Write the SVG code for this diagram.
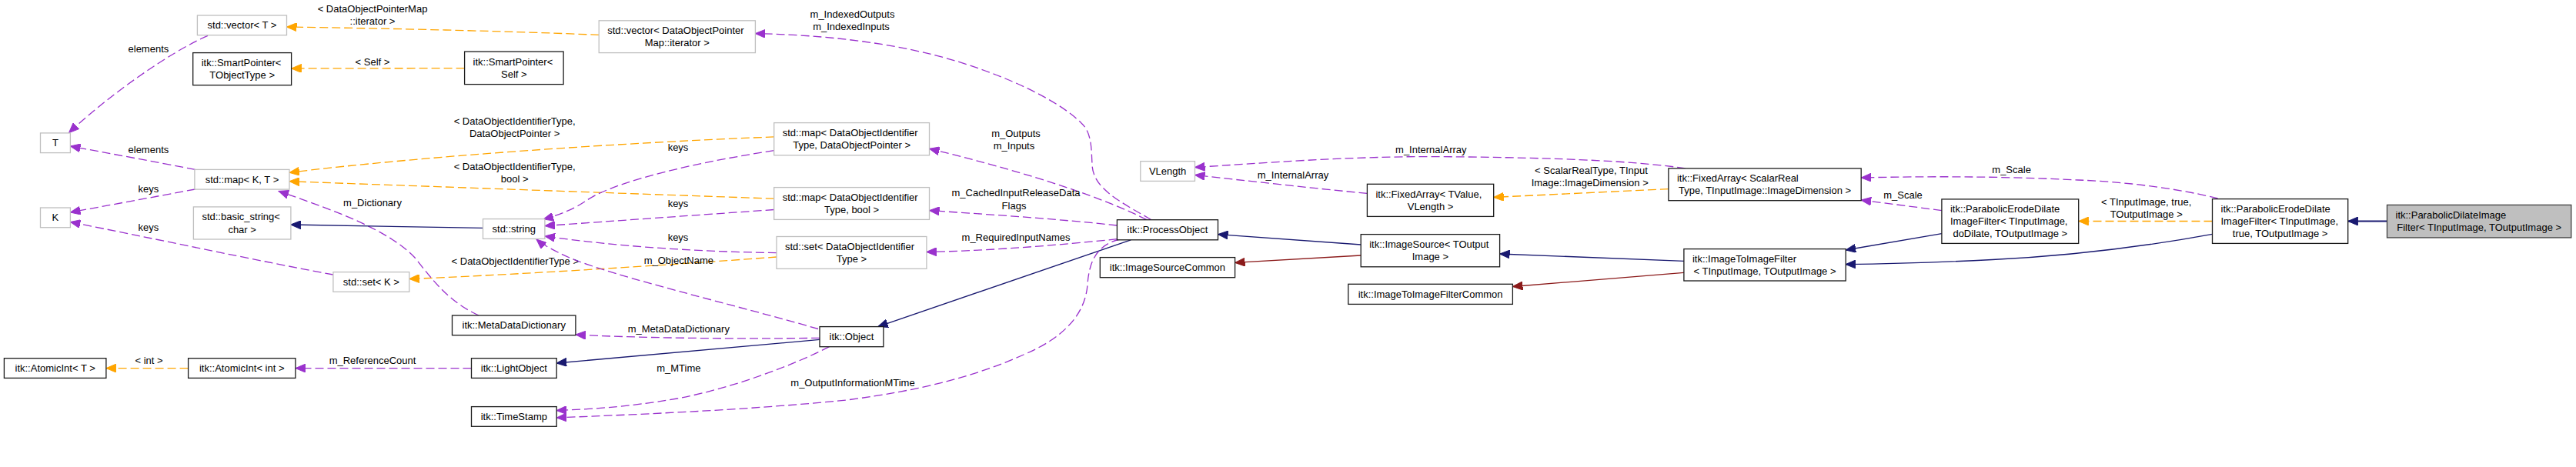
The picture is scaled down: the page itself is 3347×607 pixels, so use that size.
<svg xmlns="http://www.w3.org/2000/svg" width="3347" height="607" viewBox="0 0 3347 607">
<style>
text{font-family:"Liberation Sans",Arial,Helvetica,sans-serif;font-size:13px;fill:#000}
.c{text-anchor:middle}
.n rect{fill:#fff;stroke:#1a1a1a;stroke-width:1.3}
.u rect{stroke:#bfbfbf}
.cur rect{fill:#bfbfbf;stroke:#404040}
#edges path{fill:none;stroke-width:1.3}
.pu{stroke:#9a32cd;stroke-dasharray:11,5;marker-end:url(#ap)}
.or{stroke:#ffa500;stroke-dasharray:11,5;marker-end:url(#ao)}
.nv{stroke:#191970;marker-end:url(#an)}
.fb{stroke:#8b1a1a;marker-end:url(#af)}
#edges path.thick{stroke-width:2}
</style>
<defs>
<marker id="ap" markerUnits="userSpaceOnUse" markerWidth="14" markerHeight="11" viewBox="0 0 14 11" refX="13" refY="5.5" orient="auto"><path d="M0,0 L13,5.5 L0,11 z" fill="#9a32cd" stroke="#9a32cd" stroke-width="1"/></marker>
<marker id="ao" markerUnits="userSpaceOnUse" markerWidth="14" markerHeight="11" viewBox="0 0 14 11" refX="13" refY="5.5" orient="auto"><path d="M0,0 L13,5.5 L0,11 z" fill="#ffa500" stroke="#ffa500" stroke-width="1"/></marker>
<marker id="an" markerUnits="userSpaceOnUse" markerWidth="14" markerHeight="11" viewBox="0 0 14 11" refX="13" refY="5.5" orient="auto"><path d="M0,0 L13,5.5 L0,11 z" fill="#191970" stroke="#191970" stroke-width="1"/></marker>
<marker id="af" markerUnits="userSpaceOnUse" markerWidth="14" markerHeight="11" viewBox="0 0 14 11" refX="13" refY="5.5" orient="auto"><path d="M0,0 L13,5.5 L0,11 z" fill="#8b1a1a" stroke="#8b1a1a" stroke-width="1"/></marker>
</defs>
<rect width="3347" height="607" fill="#fff"/>
<g id="edges">
<path class="pu" d="M270,46.4 C220,68 140,125 89.5,172.5"/>
<text class="c" x="192.9" y="67.5">elements</text>
<path class="or" d="M778.2,45.4 C650,40 500,37 372.5,35"/>
<text class="c" x="484" y="16">&lt; DataObjectPointerMap</text>
<text class="c" x="484" y="32.2">::iterator &gt;</text>
<path class="or" d="M603.6,88.6 L378.6,89"/>
<text class="c" x="484" y="85">&lt; Self &gt;</text>
<path class="pu" d="M253.6,220.4 C200,210 140,199 91.4,190"/>
<text class="c" x="192.9" y="199">elements</text>
<path class="pu" d="M253.6,246 C200,256 140,267 91.4,276"/>
<text class="c" x="192.9" y="249.7">keys</text>
<path class="pu" d="M432.9,357 C330,338 200,310 91.4,288.6"/>
<text class="c" x="192.9" y="299.7">keys</text>
<path class="or" d="M1005.7,177.9 C800,186 550,203 376,224.3"/>
<text class="c" x="668.6" y="162.2">&lt; DataObjectIdentifierType,</text>
<text class="c" x="668.6" y="178">DataObjectPointer &gt;</text>
<path class="or" d="M1005.7,258.2 C800,251 550,242 376,235.7"/>
<text class="c" x="668.6" y="221">&lt; DataObjectIdentifierType,</text>
<text class="c" x="668.6" y="237">bool &gt;</text>
<path class="or" d="M1009,334 C850,346 650,358 531.8,362.5"/>
<text class="c" x="669.3" y="344">&lt; DataObjectIdentifierType &gt;</text>
<path class="pu" d="M622,410 C585,393 565,368 540,336 C505,298 430,272 362,248.5"/>
<text class="c" x="484" y="268.3">m_Dictionary</text>
<path class="nv" d="M627.5,296.4 L377.9,292"/>
<path class="pu" d="M1005.7,195.7 C880,215 790,240 760,262 C745,272 725,280 706,285"/>
<text class="c" x="881" y="195.8">keys</text>
<path class="pu" d="M1005.7,272.5 C900,280 800,287 707.9,293.6"/>
<text class="c" x="881" y="269.4">keys</text>
<path class="pu" d="M1009,328.6 C900,327 800,320 707.9,307"/>
<text class="c" x="881" y="313">keys</text>
<path class="pu" d="M1063,427.5 C950,395 800,360 740,335 C720,326 705,318 697,311"/>
<text class="c" x="881.8" y="342.6">m_ObjectName</text>
<path class="pu" d="M1065,439.3 C950,441 820,439 747.9,435"/>
<text class="c" x="881.8" y="431.5">m_MetaDataDictionary</text>
<path class="nv" d="M1065,441.4 L723.2,472"/>
<path class="pu" d="M1077.5,450.7 C1030,475 950,505 880,518 C810,530 760,532 723.2,533.6"/>
<text class="c" x="881.8" y="483.3">m_MTime</text>
<path class="pu" d="M612.5,478.6 L383.9,478.6"/>
<text class="c" x="484" y="473">m_ReferenceCount</text>
<path class="or" d="M244.6,478.6 L137.9,478.6"/>
<text class="c" x="193.6" y="473">&lt; int &gt;</text>
<path class="pu" d="M1496,285.7 C1455,262 1420,245 1419,214 C1418,190 1418,172 1405,160 C1380,135 1330,110 1280,92 C1200,62 1100,46 981.4,43.6"/>
<text class="c" x="1107.5" y="22.6">m_IndexedOutputs</text>
<text class="c" x="1106" y="39.4">m_IndexedInputs</text>
<path class="pu" d="M1490,285.7 C1440,260 1350,228 1207.5,193.2"/>
<text class="c" x="1320" y="178">m_Outputs</text>
<text class="c" x="1317.5" y="194.4">m_Inputs</text>
<path class="pu" d="M1451.4,293 C1380,285 1290,279 1207.5,273.6"/>
<text class="c" x="1320" y="255.4">m_CachedInputReleaseData</text>
<text class="c" x="1317.5" y="271.9">Flags</text>
<path class="pu" d="M1451.4,310.7 C1380,318 1290,326 1203.9,327.5"/>
<text class="c" x="1320" y="312.6">m_RequiredInputNames</text>
<path class="nv" d="M1469.3,311.8 L1140.7,424.6"/>
<path class="pu" d="M1455,311 C1425,318 1415,340 1413,370 C1410,410 1380,440 1330,461 C1270,488 1200,507 1100,520 C980,532 850,538 723.2,542.9"/>
<text class="c" x="1108" y="502.2">m_OutputInformationMTime</text>
<path class="nv" d="M1768.2,318 L1582.5,304.6"/>
<path class="fb" d="M1768.2,332 L1604.6,341.4"/>
<path class="nv" d="M2187.9,339.3 L1948.6,330"/>
<path class="fb" d="M2187.9,354.3 L1965.4,372.5"/>
<path class="pu" d="M1776.4,251.4 C1700,244 1620,235 1552.5,227.5"/>
<text class="c" x="1680" y="231.5">m_InternalArray</text>
<path class="pu" d="M2190,218.9 C2130,210 2040,205 1870,203.6 C1750,203 1640,212 1552.5,217.5"/>
<text class="c" x="1859.3" y="199.4">m_InternalArray</text>
<path class="or" d="M2167.9,245.7 L1940.7,256.4"/>
<text class="c" x="2067.5" y="225.8">&lt; ScalarRealType, TInput</text>
<text class="c" x="2065.7" y="242.2">Image::ImageDimension &gt;</text>
<path class="nv" d="M2522.9,303.6 L2398.2,325"/>
<path class="pu" d="M2522.9,273.6 L2418.2,260"/>
<text class="c" x="2472.5" y="258">m_Scale</text>
<path class="pu" d="M2881.6,257.9 C2830,245 2760,236 2700,234 C2600,229 2500,229 2418.2,231"/>
<text class="c" x="2613.6" y="224.7">m_Scale</text>
<path class="or" d="M2874.5,287.5 L2700.7,287.5"/>
<text class="c" x="2788.7" y="266.5">&lt; TInputImage, true,</text>
<text class="c" x="2788.7" y="282.9">TOutputImage &gt;</text>
<path class="nv" d="M2874.5,304.3 C2800,318 2700,332 2588.6,337.5 C2520,341 2450,343 2398.2,343.6"/>
<path class="nv thick" d="M3101.5,287.5 L3050.7,287.5"/>
</g>
<g id="atomicT" class="n"><rect x="5.4" y="465.7" width="132.5" height="25.7"/><text class="c" x="71.65" y="483.05">itk::AtomicInt&lt; T &gt;</text></g>
<g id="atomicInt" class="n"><rect x="244.6" y="465.7" width="139.3" height="25.7"/><text class="c" x="314.25" y="483.05">itk::AtomicInt&lt; int &gt;</text></g>
<g id="T" class="n u"><rect x="52.5" y="172.9" width="38.9" height="25.7"/><text class="c" x="71.95" y="190.25">T</text></g>
<g id="K" class="n u"><rect x="52.5" y="270" width="38.9" height="25.7"/><text class="c" x="71.95" y="287.35">K</text></g>
<g id="vectorT" class="n u"><rect x="256.4" y="20" width="116.1" height="25.7"/><text class="c" x="314.45" y="37.35">std::vector&lt; T &gt;</text></g>
<g id="smartPtrT" class="n"><rect x="250.7" y="68.6" width="127.9" height="42.1"/><text x="261.7" y="86.05">itk::SmartPointer&lt;</text><text class="c" x="314.65" y="102.25">TObjectType &gt;</text></g>
<g id="mapKT" class="n u"><rect x="252.9" y="220.4" width="123.1" height="25.7"/><text class="c" x="314.45" y="237.75">std::map&lt; K, T &gt;</text></g>
<g id="basicString" class="n u"><rect x="251.4" y="268.9" width="126.5" height="42.1"/><text x="262.4" y="286.35">std::basic_string&lt;</text><text class="c" x="314.65" y="302.55">char &gt;</text></g>
<g id="setK" class="n u"><rect x="432.9" y="353.6" width="98.9" height="25.7"/><text class="c" x="482.35" y="370.95">std::set&lt; K &gt;</text></g>
<g id="vectorDOPM" class="n u"><rect x="778.2" y="26.8" width="203.2" height="41.8"/><text x="789.2" y="44.1">std::vector&lt; DataObjectPointer</text><text class="c" x="879.8" y="60.3">Map::iterator &gt;</text></g>
<g id="smartPtrSelf" class="n"><rect x="603.6" y="67.1" width="128.5" height="42.5"/><text x="614.6" y="84.75">itk::SmartPointer&lt;</text><text class="c" x="667.85" y="100.95">Self &gt;</text></g>
<g id="mapDOP" class="n u"><rect x="1005.7" y="159.6" width="201.8" height="42.2"/><text x="1016.7" y="177.1">std::map&lt; DataObjectIdentifier</text><text class="c" x="1106.6" y="193.3">Type, DataObjectPointer &gt;</text></g>
<g id="mapBool" class="n u"><rect x="1005.7" y="243.6" width="201.8" height="41.8"/><text x="1016.7" y="260.9">std::map&lt; DataObjectIdentifier</text><text class="c" x="1106.6" y="277.1">Type, bool &gt;</text></g>
<g id="setDOI" class="n u"><rect x="1009" y="307.5" width="194.9" height="41.8"/><text x="1020" y="324.8">std::set&lt; DataObjectIdentifier</text><text class="c" x="1106.45" y="341">Type &gt;</text></g>
<g id="string" class="n u"><rect x="627.5" y="284.6" width="80.4" height="25.8"/><text class="c" x="667.7" y="302">std::string</text></g>
<g id="metaDataDictionary" class="n"><rect x="587.5" y="410" width="160.4" height="25.7"/><text class="c" x="667.7" y="427.35">itk::MetaDataDictionary</text></g>
<g id="lightObject" class="n"><rect x="612.5" y="465.7" width="110.7" height="25.7"/><text class="c" x="667.85" y="483.05">itk::LightObject</text></g>
<g id="timeStamp" class="n"><rect x="612.5" y="528.6" width="110.7" height="25.7"/><text class="c" x="667.85" y="545.95">itk::TimeStamp</text></g>
<g id="object" class="n"><rect x="1065" y="424.6" width="82.9" height="26.1"/><text class="c" x="1106.45" y="442.15">itk::Object</text></g>
<g id="processObject" class="n"><rect x="1451.4" y="285.7" width="131.1" height="26.1"/><text class="c" x="1516.95" y="303.25">itk::ProcessObject</text></g>
<g id="imageSourceCommon" class="n"><rect x="1429.3" y="334.6" width="175.3" height="26.1"/><text class="c" x="1516.95" y="352.15">itk::ImageSourceCommon</text></g>
<g id="vlength" class="n u"><rect x="1481.8" y="209.6" width="70.7" height="25.8"/><text class="c" x="1517.15" y="227">VLength</text></g>
<g id="fixedArrayTV" class="n"><rect x="1776.4" y="239.3" width="164.3" height="42.1"/><text x="1787.4" y="256.75">itk::FixedArray&lt; TValue,</text><text class="c" x="1858.55" y="272.95">VLength &gt;</text></g>
<g id="imageSource" class="n"><rect x="1768.2" y="304.6" width="180.4" height="42.2"/><text x="1779.2" y="322.1">itk::ImageSource&lt; TOutput</text><text class="c" x="1858.4" y="338.3">Image &gt;</text></g>
<g id="itifCommon" class="n"><rect x="1751.8" y="369.3" width="213.6" height="26.1"/><text class="c" x="1858.6" y="386.85">itk::ImageToImageFilterCommon</text></g>
<g id="fixedArraySR" class="n"><rect x="2167.9" y="218.9" width="250.3" height="41.8"/><text x="2178.9" y="236.2">itk::FixedArray&lt; ScalarReal</text><text class="c" x="2293.05" y="252.4">Type, TInputImage::ImageDimension &gt;</text></g>
<g id="itif" class="n"><rect x="2187.9" y="323.6" width="210.3" height="41.4"/><text x="2198.9" y="340.7">itk::ImageToImageFilter</text><text class="c" x="2293.05" y="356.9">&lt; TInputImage, TOutputImage &gt;</text></g>
<g id="erodeDilate" class="n"><rect x="2522.9" y="258.9" width="177.8" height="57.5"/><text x="2533.9" y="275.95">itk::ParabolicErodeDilate</text><text x="2533.9" y="292.15">ImageFilter&lt; TInputImage,</text><text class="c" x="2611.8" y="308.35">doDilate, TOutputImage &gt;</text></g>
<g id="erodeDilateTrue" class="n"><rect x="2874.5" y="258.6" width="176.2" height="57.8"/><text x="2885.5" y="275.8">itk::ParabolicErodeDilate</text><text x="2885.5" y="292">ImageFilter&lt; TInputImage,</text><text class="c" x="2962.6" y="308.2">true, TOutputImage &gt;</text></g>
<g id="parabolicDilate" class="n cur"><rect x="3101.5" y="266.4" width="239.3" height="42.5"/><text x="3112.5" y="284.05">itk::ParabolicDilateImage</text><text class="c" x="3221.15" y="300.25">Filter&lt; TInputImage, TOutputImage &gt;</text></g>
</svg>
